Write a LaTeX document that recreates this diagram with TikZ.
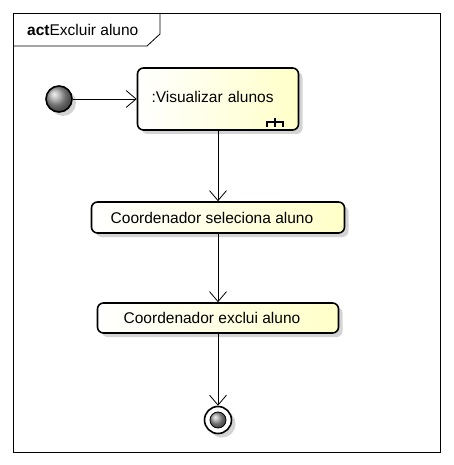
\documentclass[tikz,border=0pt]{standalone}
\usepackage{fontspec}
\setmainfont{Liberation Sans}
\definecolor{umlYellow}{RGB}{255,255,200}
\definecolor{umlShadow}{RGB}{212,212,212}
\usetikzlibrary{arrows.meta,positioning,shadows,calc}

\begin{document}
\begin{tikzpicture}[x=1pt, y=-1pt,
  action/.style={draw, line width=1.6pt, rounded corners=6pt, left color=white,
                 right color=umlYellow, inner ysep=0pt,
                 drop shadow={shadow xshift=4pt, shadow yshift=-4pt,
                              fill=umlShadow, opacity=1},
                 font=\fontsize{15.5}{18}\selectfont},
  flow/.style={-{Straight Barb[length=10pt,width=17pt]}, line width=0.8pt},
  ballnode/.style={circle, draw, line width=1.6pt, shading=ball, ball color=gray!75,
                   inner sep=0pt}
]
  \useasboundingbox[fill=white] (0,0) rectangle (453,465);

  % frame and title tab
  \draw[line width=0.8pt] (13,13) rectangle (440,452);
  \draw[line width=0.8pt] (13,46) -- (147,46) -- (160,34) -- (160,13);
  \node[anchor=base west, inner sep=0pt, font=\fontsize{15.5}{18}\selectfont]
    (title) at (27,36) {\textbf{act}Excluir aluno};

  % start
  \node[ballnode, minimum size=26pt,
        drop shadow={shadow xshift=4pt, shadow yshift=-4pt, fill=umlShadow, opacity=1}]
    (start) at (59,99) {};

  % actions
  \node[action, minimum width=161pt, minimum height=62pt, text width=133pt,
        inner xsep=14pt, align=left] (visualizar) at (218,99)
    {\raisebox{5pt}{:Visualizar alunos}};
  \node[action, minimum width=253pt, minimum height=31pt] (seleciona) at (218,217.5)
    {Coordenador seleciona aluno\hspace*{12pt}};
  \node[action, minimum width=241pt, minimum height=30pt] (exclui) at (218,318)
    {Coordenador exclui aluno\hspace*{12pt}};

  % rake icon
  \coordinate (rake) at ($(visualizar.south east)+(-24,-9)$);
  \draw[line width=2pt] ($(rake)+(-8,5)$) -- ($(rake)+(-8,0)$) -- ($(rake)+(8,0)$) -- ($(rake)+(8,5)$);
  \draw[line width=2pt] ($(rake)+(0,-4)$) -- ($(rake)+(0,5)$);

  % end
  \node[circle, draw, line width=1.6pt, fill=white, minimum size=27pt, inner sep=0pt,
        drop shadow={shadow xshift=4pt, shadow yshift=-4pt, fill=umlShadow, opacity=1}]
    (final) at (218,420) {};
  \node[ballnode, line width=0.8pt, minimum size=16pt] (finalDot) at (final) {};

  \draw[flow] (start) -- (visualizar);
  \draw[flow] (visualizar) -- (seleciona);
  \draw[flow] (seleciona) -- (exclui);
  \draw[flow] (exclui) -- (final);
\end{tikzpicture}
\end{document}
